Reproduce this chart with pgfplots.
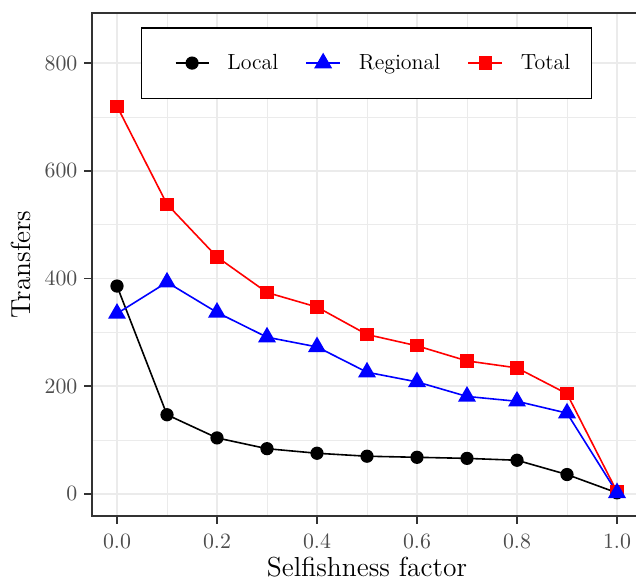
\documentclass[border=0pt]{standalone}
\usepackage{pgfplots}
\pgfplotsset{compat=1.18}
\definecolor{framegray}{HTML}{333333}
\definecolor{textgray}{HTML}{4D4D4D}
\definecolor{gridgray}{HTML}{EBEBEB}
\begin{document}
\begin{tikzpicture}
\useasboundingbox (-46bp,-34.5bp) rectangle (272bp,258bp);
\begin{axis}[
  at={(0,0)}, anchor=south west,
  scale only axis, width=275bp, height=251.5bp,
  xmin=-0.05, xmax=1.05, ymin=-41, ymax=893,
  xtick={0,0.2,0.4,0.6,0.8,1.0},
  minor xtick={0.1,0.3,0.5,0.7,0.9},
  ytick={0,200,400,600,800},
  minor ytick={100,300,500,700},
  xticklabel style={yshift=-2bp, /pgf/number format/fixed, /pgf/number format/fixed zerofill, /pgf/number format/precision=1},
  grid=both,
  major grid style={gridgray, line width=0.75bp},
  minor grid style={gridgray, line width=0.4bp},
  axis line style={framegray, line width=0.75bp},
  tick style={framegray, line width=0.75bp},
  tick align=outside, major tick length=3.8bp, minor tick length=0pt,
  tick pos=left,
  ticklabel style={font=\fontsize{11}{13}\selectfont, text=textgray},
  label style={font=\fontsize{13.8}{16}\selectfont},
  xlabel style={yshift=2.5bp},
  xlabel={Selfishness factor}, ylabel={Transfers},
  legend columns=3,
  legend style={at={(rel axis cs:0,1)}, anchor=north west, xshift=24.5bp, yshift=-7.2bp,
    draw=black, line width=0.6bp, fill=white,
    inner xsep=8.5bp, inner ysep=11bp, font=\fontsize{11}{13}\selectfont,
    /tikz/every odd column/.append style={column sep=7bp},
    /tikz/every even column/.append style={column sep=11.5bp}},
]
\addplot[black, line width=0.8bp, mark=*, mark size=2.9bp, mark options={solid}, forget plot] coordinates {
(0,386)(0.1,147)(0.2,104)(0.3,84)(0.4,75.5)(0.5,70)(0.6,68)(0.7,66)(0.8,62.5)(0.9,36)(1.0,2)};
\addplot[red, line width=0.8bp, mark=square*, mark size=2.9bp, mark options={solid}, forget plot] coordinates {
(0,720)(0.1,538)(0.2,440)(0.3,374)(0.4,347)(0.5,296)(0.6,275)(0.7,247)(0.8,234)(0.9,186)(1.0,4)};
\addplot[blue, line width=0.8bp, mark=triangle*, mark size=4.4bp, mark options={solid}, forget plot] coordinates {
(0,335)(0.1,393)(0.2,337)(0.3,291)(0.4,273)(0.5,226)(0.6,208)(0.7,181)(0.8,172)(0.9,150)(1.0,2)};
\addlegendimage{black, line width=0.8bp, mark=*, mark size=2.9bp,
  legend image code/.code={\path[draw=none,fill=none] (-8.5bp,0) rectangle (0,0);
    \draw[mark repeat=2,mark phase=2] plot coordinates {(0bp,0bp)(8.25bp,0bp)(16.5bp,0bp)};}}
\addlegendentry{Local}
\addlegendimage{blue, line width=0.8bp, mark=triangle*, mark size=4.4bp}
\addlegendentry{Regional}
\addlegendimage{red, line width=0.8bp, mark=square*, mark size=2.9bp}
\addlegendentry{Total}
\end{axis}
\end{tikzpicture}
\end{document}
